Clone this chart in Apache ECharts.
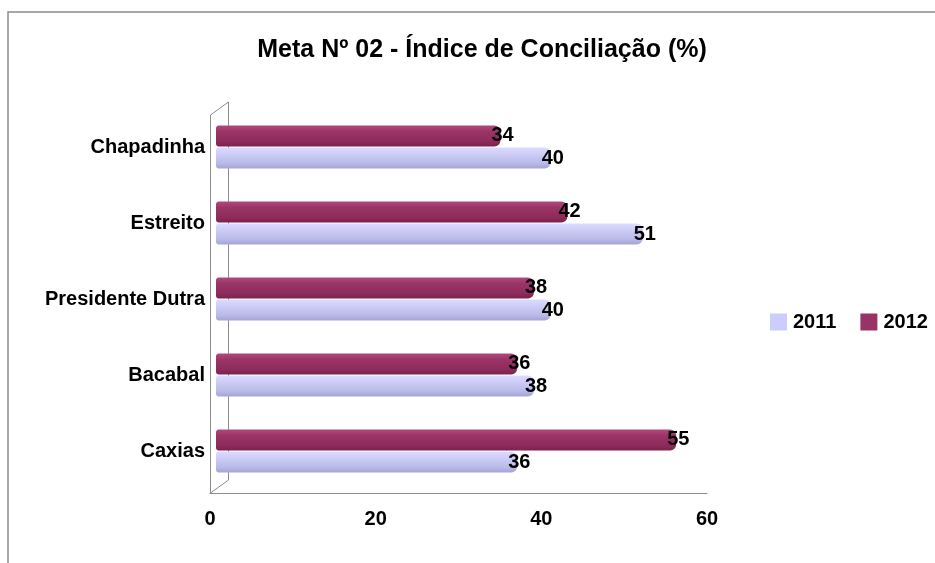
<!DOCTYPE html>
<html><head><meta charset="utf-8">
<script src="https://cdn.jsdelivr.net/npm/echarts@6/dist/echarts.min.js"></script>
<style>html,body{margin:0;padding:0;background:#fff}#c{width:935px;height:563px}</style>
</head><body><div id="c"></div>
<script>
const titleText = 'Meta Nº 02 - Índice de Conciliação (%)';
const categories = ['Caxias', 'Bacabal', 'Presidente Dutra', 'Estreito', 'Chapadinha'];
const values2011 = [36, 38, 40, 51, 40];
const values2012 = [55, 36, 38, 42, 34];
const seriesNames = ['2011', '2012'];
const xTicks = [0, 20, 40, 60];

const FONT = '"Liberation Sans", Arial, sans-serif';
const chart = echarts.init(document.getElementById('c'));

const grad2011 = new echarts.graphic.LinearGradient(0, 0, 0, 1, [
  {offset: 0, color: '#dcdcff'}, {offset: 0.35, color: '#cbcbf6'}, {offset: 0.75, color: '#babae8'}, {offset: 1, color: '#a4a4d6'}]);
const grad2012 = new echarts.graphic.LinearGradient(0, 0, 0, 1, [
  {offset: 0, color: '#b04a7c'}, {offset: 0.3, color: '#9a3466'}, {offset: 0.75, color: '#8e2c5c'}, {offset: 1, color: '#7a224e'}]);

const labelCfg = {
  show: true, position: 'right', offset: [-14, 0],
  fontFamily: FONT, fontWeight: 'bold', fontSize: 20, color: '#000'
};

chart.setOption({
  animation: false,
  title: {
    text: titleText, left: 477, top: 33, textAlign: 'center',
    textStyle: {fontFamily: FONT, fontWeight: 'bold', fontSize: 25, color: '#000'}
  },
  legend: {
    data: [
      {name: seriesNames[0], itemStyle: {color: '#ccccff'}},
      {name: seriesNames[1], itemStyle: {color: '#993366'}}
    ],
    left: 770, top: 312, width: 165, padding: 0, orient: 'horizontal', icon: 'rect',
    itemWidth: 17, itemHeight: 17, itemGap: 24,
    textStyle: {fontFamily: FONT, fontWeight: 'bold', fontSize: 20, color: '#000', padding: [0, 0, 0, 1]}
  },
  grid: [
    {left: 216, width: 502, top: 109, height: 380},
    {left: 210, width: 497, top: 109, height: 384}
  ],
  xAxis: [
    {gridIndex: 0, type: 'value', min: 0, max: 60, interval: 20, show: false},
    {gridIndex: 1, type: 'value', min: xTicks[0], max: xTicks[xTicks.length - 1], interval: 20,
      axisLine: {show: true, lineStyle: {color: '#8c8c8c', width: 1}},
      axisTick: {show: false}, splitLine: {show: false},
      axisLabel: {fontFamily: FONT, fontWeight: 'bold', fontSize: 20, color: '#000', margin: 16}}
  ],
  yAxis: [
    {gridIndex: 0, type: 'category', data: categories,
      axisLine: {show: false}, axisTick: {show: false},
      axisLabel: {fontFamily: FONT, fontWeight: 'bold', fontSize: 20, color: '#000', margin: 11}},
    {gridIndex: 1, type: 'category', data: categories, show: false}
  ],
  series: [
    {name: seriesNames[1], type: 'bar', xAxisIndex: 0, yAxisIndex: 0, data: values2012,
      barWidth: 21, barGap: '5%', itemStyle: {color: grad2012, borderRadius: [3, 6, 6, 3]}, label: labelCfg,
      z: 3},
    {name: seriesNames[0], type: 'bar', xAxisIndex: 0, yAxisIndex: 0, data: values2011,
      barWidth: 21, barGap: '5%', itemStyle: {color: grad2011, borderRadius: [3, 6, 6, 3]}, label: labelCfg,
      z: 3}
  ],
  graphic: [
    {type: 'polyline', shape: {points: [[8, 563], [8, 12], [935, 12]]}, style: {stroke: '#8c8c8c', lineWidth: 1.5, fill: null}, silent: true},
    {type: 'polyline', shape: {points: [[210.5, 493], [210.5, 115], [228.5, 102], [228.5, 480], [210.5, 493]]}, style: {stroke: '#8c8c8c', lineWidth: 1, fill: null}, silent: true, z: 1}
  ]
});
</script></body></html>
